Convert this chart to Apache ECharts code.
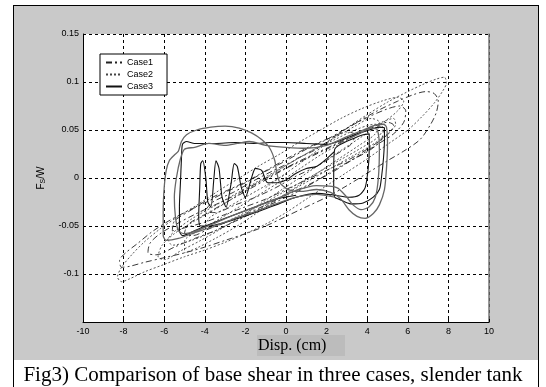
<!DOCTYPE html>
<html>
<head>
<meta charset="utf-8">
<script src="https://cdn.jsdelivr.net/npm/echarts@6/dist/echarts.min.js"></script>
<style type="text/css">
    html, body { margin: 0; padding: 0; background: #fff; }
    #frame {
        position: absolute; left: 13px; top: 5px; width: 524px; height: 384px;
        background: #c9c9c9; border: 1px solid #000; border-bottom: none;
    }
    #band {
        position: absolute; left: 14px; top: 360px; width: 524px; height: 27px; background: #fff;
    }
    #chart { position: absolute; left: 0; top: 0; width: 546px; height: 387px; }
</style>
</head>
<body>
<div id="frame"></div>
<div id="band"></div>
<div id="chart"></div>
<script type="text/javascript">
    // axis ranges / ticks
    var xRange = [-10, 10, 2];
    var yRange = [-0.15, 0.15, 0.05];

    // Case1 : dash-dot loops  [disp (cm), Fs/W]
    var case1 = [
        [0.5,0.02],[1.5,0.03],[2.5,0.045],[3.5,0.058],[4.5,0.07],[5.5,0.08],[6.3,0.087],[6.9,0.09],[7.3,0.088],[7.5,0.08],
        [7.4,0.068],[7.1,0.055],[6.6,0.04],[5.8,0.028],[5,0.018],[4,0.005],[3,-0.008],[2,-0.02],[1,-0.03],[0,-0.04],
        [-1,-0.05],[-2,-0.058],[-3,-0.065],[-4,-0.072],[-5,-0.078],[-6,-0.083],[-7,-0.088],[-7.7,-0.092],[-8.1,-0.093],[-8.2,-0.086],
        [-7.9,-0.078],[-7.3,-0.068],[-6.6,-0.056],[-5.8,-0.045],[-5,-0.036],[-4,-0.026],[-3,-0.015],[-2,-0.005],[-1,0.007],[0,0.018],
        [1,0.03],[2,0.04],[3,0.052],[4,0.063],[5,0.072],[5.6,0.075],[5.9,0.07],[5.8,0.058],[5.3,0.046],[4.5,0.035],
        [3.5,0.022],[2.5,0.01],[1.5,-0.003],[0.5,-0.015],[-0.5,-0.025],[-1.5,-0.035],[-2.5,-0.045],[-3.5,-0.055],[-4.5,-0.063],[-5.5,-0.072],
        [-6.4,-0.08],[-6.8,-0.078],[-6.7,-0.068],[-6.2,-0.058],[-5.4,-0.048],[-4.5,-0.038],[-3.5,-0.028],[-2.5,-0.018],[-1.5,-0.006],[-0.5,0.005],
        [0.5,0.016],[1.5,0.026],[2.5,0.036],[3.5,0.046],[4.3,0.053],[4.8,0.052],[4.7,0.04],[4.2,0.03],[3.2,0.018],[2.2,0.005],
        [1.2,-0.006],[0.2,-0.016],[-0.8,-0.026],[-1.8,-0.036],[-2.8,-0.045],[-3.8,-0.053],[-4.6,-0.06],[-5,-0.058],[-4.8,-0.048],[-4,-0.038],
        [-3,-0.026],[-2,-0.014],[-1,-0.002],[0,0.01],[1,0.02],[2,0.03],[3,0.04],[4,0.05],[5,0.058],[5.3,0.055],
        [5,0.045],[4,0.03],[3,0.018],[2,0.008],[1,-0.002],[0,-0.012],[-1,-0.022],[-2,-0.03],[-3,-0.038],[-4,-0.046],
        [-5,-0.052],[-5.6,-0.055],[-5.5,-0.045],[-4.8,-0.035],[-3.8,-0.022],[-2.8,-0.012],[-1.8,-0.002],[-0.8,0.01],[0.2,0.022],[1.2,0.033],
        [2.2,0.042],[3,0.048],[3.4,0.045],[3.2,0.035],[2.5,0.025],[1.5,0.012],[0.5,0.002],[-0.5,-0.01],[-1.5,-0.02],[-2.5,-0.028],
        [-3.5,-0.036],[-4,-0.035],[-3.6,-0.025],[-2.6,-0.015],[-1.6,-0.003],[-0.6,0.008],[0.4,0.018]
    ];

    // Case2 : dotted loops
    var case2 = [
        [-1,-0.01],[0,0.005],[1,0.02],[2,0.036],[3,0.052],[4,0.066],[5,0.079],[6,0.09],[6.8,0.098],[7.4,0.103],
        [7.8,0.105],[7.9,0.099],[7.7,0.09],[7.3,0.078],[6.7,0.064],[6,0.05],[5,0.035],[4,0.02],[3,0.006],[2,-0.008],
        [1,-0.022],[0,-0.036],[-1,-0.048],[-2,-0.058],[-3,-0.067],[-4,-0.075],[-5,-0.082],[-6,-0.09],[-7,-0.098],[-7.7,-0.105],
        [-8.1,-0.108],[-8.3,-0.103],[-8.1,-0.093],[-7.6,-0.08],[-7,-0.067],[-6.2,-0.053],[-5.3,-0.04],[-4.3,-0.027],[-3.3,-0.013],[-2.3,0],
        [-1.3,0.013],[-0.3,0.025],[0.7,0.038],[1.7,0.05],[2.7,0.062],[3.7,0.072],[4.7,0.08],[5.5,0.084],[5.8,0.08],[5.5,0.07],
        [4.8,0.058],[3.8,0.044],[2.8,0.03],[1.8,0.016],[0.8,0.002],[-0.2,-0.012],[-1.2,-0.026],[-2.2,-0.04],[-3.2,-0.053],[-4.2,-0.065],
        [-5.2,-0.076],[-6,-0.085],[-6.3,-0.082],[-6.1,-0.07],[-5.5,-0.058],[-4.6,-0.046],[-3.6,-0.034],[-2.6,-0.021],[-1.6,-0.008],[-0.6,0.005],
        [0.4,0.018],[1.4,0.03],[2.4,0.042],[3.4,0.054],[4.2,0.062],[4.6,0.058],[4.4,0.046],[3.6,0.034],[2.6,0.02],[1.6,0.006],
        [0.6,-0.008],[-0.4,-0.022],[-1.4,-0.036],[-2.4,-0.05],[-3.4,-0.062],[-4.4,-0.073],[-5,-0.078],[-5,-0.066],[-4.3,-0.055],[-3.3,-0.043],
        [-2.3,-0.03],[-1.3,-0.017],[-0.3,-0.004],[0.7,0.01],[1.7,0.024],[2.7,0.036],[3.7,0.048],[4.7,0.058],[5.3,0.062],[5.4,0.056],
        [5,0.046],[4.2,0.034],[3.2,0.022],[2.2,0.01],[1.2,-0.002],[0.2,-0.014],[-0.8,-0.026],[-1.8,-0.038],[-2.8,-0.048],[-3.8,-0.058],
        [-4.8,-0.066],[-5.6,-0.07],[-5.8,-0.064],[-5.4,-0.054],[-4.6,-0.042],[-3.6,-0.03],[-2.6,-0.018],[-1.6,-0.006],[-0.6,0.006],[0.4,0.018],
        [1.4,0.03],[2.4,0.04],[3.4,0.05],[4.4,0.056],[4.8,0.052],[4.5,0.042],[3.6,0.03],[2.6,0.018],[1.6,0.006],[0.6,-0.006],
        [-0.4,-0.018],[-1.4,-0.03],[-2.4,-0.04],[-3.4,-0.05],[-4,-0.052],[-3.8,-0.042],[-3,-0.032],[-2,-0.02],[-1,-0.008],[0,0.004]
    ];

    // Case3 : solid loops (dark trace)
    var case3a = [
        [0.5,-0.018],[-0.5,-0.022],[-1.5,-0.03],[-2.5,-0.038],[-3.5,-0.046],[-4.2,-0.052],[-4.8,-0.058],[-5.1,-0.06],[-5.25,-0.055],[-5.25,-0.03],
        [-5.2,-0.005],[-5.15,0.02],[-5.1,0.035],[-4.9,0.038],[-4.5,0.036],[-3.5,0.036],[-2.5,0.037],[-1.5,0.036],[-0.8,0.037],[0,0.037],
        [1,0.036],[2,0.035],[2.8,0.04],[3.5,0.046],[4.1,0.05],[4.6,0.053],[4.85,0.052],[4.85,0.04],[4.8,0.02],[4.7,0],
        [4.6,-0.012],[4.3,-0.02],[3.8,-0.026],[3.2,-0.027],[2.6,-0.022],[2.4,-0.02],[2.35,-0.01],[2.35,0.01],[2.4,0.03],[2.6,0.034],
        [3.2,0.04],[3.8,0.045],[4.1,0.046],[4.1,0.03],[4.05,0.01],[3.9,-0.01],[3.6,-0.018],[3.1,-0.02],[2.4,-0.018],[1.5,-0.016],
        [0.5,-0.02],[-0.5,-0.028],[-1.5,-0.036],[-2.5,-0.043],[-3.5,-0.049],[-4.2,-0.05],[-4.3,-0.04],[-4.25,-0.01],[-4.2,0.015],[-4.1,0.018],
        [-3.95,0],[-3.85,-0.025],[-3.7,-0.03],[-3.55,0],[-3.45,0.018],[-3.3,0.01],[-3.15,-0.02],[-2.95,-0.03],[-2.7,-0.005],[-2.55,0.015],
        [-2.4,0.012],[-2.2,-0.01],[-2,-0.02],[-1.7,0],[-1.5,0.01],[-1.2,0.008],[-0.9,-0.005],[-0.5,-0.005],[0,-0.002],[0.5,0.005],
        [1,0.01],[1.5,0.012],[2,0.02],[2.4,0.028]
    ];

    // Case3 : solid loops (grey trace)
    var case3b = [
        [2.4,-0.02],[1.5,-0.017],[0.5,-0.02],[-0.5,-0.027],[-1.5,-0.035],[-2.5,-0.042],[-3.5,-0.05],[-4.5,-0.057],[-5.3,-0.063],[-5.9,-0.065],
        [-6.05,-0.06],[-6.05,-0.035],[-6,-0.01],[-5.9,0.008],[-5.75,0.018],[-5.5,0.024],[-5.3,0.028],[-5.15,0.038],[-4.9,0.045],[-4.4,0.05],
        [-3.7,0.053],[-3,0.054],[-2.3,0.052],[-1.7,0.047],[-1.2,0.04],[-0.8,0.031],[-0.55,0.018],[-0.45,0.005],[-0.3,-0.005],[0.1,-0.012],
        [0.8,-0.014],[1.5,-0.012],[2.2,-0.015],[2.7,-0.022],[3.1,-0.033],[3.5,-0.04],[3.9,-0.042],[4.3,-0.037],[4.6,-0.028],[4.85,-0.012],
        [4.95,0.01],[5,0.035],[4.95,0.053],[4.8,0.056],[4.4,0.055],[3.8,0.05],[3,0.043],[2,0.034],[1,0.031],[0,0.032],
        [-1,0.034],[-1.8,0.038],[-2.4,0.036],[-3,0.034],[-3.8,0.036],[-4.5,0.032],[-5,0.03],[-5.2,0.02],[-5.4,0],[-5.5,-0.02],
        [-5.45,-0.04],[-5.3,-0.055],[-5,-0.058],[-4.3,-0.054],[-3.5,-0.047],[-2.5,-0.038],[-1.5,-0.03],[-0.5,-0.022],[0.5,-0.013],[1.5,-0.008],
        [2.5,-0.01],[3,-0.02],[3.3,-0.028],[3.7,-0.033],[4.1,-0.03],[4.4,-0.02],[4.55,0],[4.6,0.03],[4.5,0.05],[4.2,0.052],
        [3.6,0.046],[3,0.04]
    ];

    var chart = echarts.init(document.getElementById('chart'));
    var gridDash = { color: '#000', width: 1, type: [3, 3] };
    var font = 'Liberation Sans';

    var option = {
        animation: false,
        backgroundColor: 'transparent',
        title: {
            text: 'Fig3) Comparison of base shear in three cases, slender tank',
            left: 'center', top: 360,
            textStyle: { fontFamily: 'Liberation Serif', fontSize: 21, fontWeight: 'normal', color: '#000' }
        },
        legend: {
            data: ['Case1', 'Case2', 'Case3'],
            orient: 'vertical', left: 100, top: 54,
            backgroundColor: '#fff', borderColor: '#000', borderWidth: 1,
            padding: [4, 14, 4, 5], itemGap: 3, itemWidth: 16, itemHeight: 8,
            itemStyle: { opacity: 0 },
            textStyle: { fontFamily: font, fontSize: 9, color: '#000' }
        },
        grid: {
            left: 83, top: 34, width: 406, height: 288,
            show: true, backgroundColor: '#fff', borderWidth: 0
        },
        xAxis: {
            type: 'value', min: xRange[0], max: xRange[1], interval: xRange[2],
            axisLine: { onZero: false, lineStyle: { color: '#000', width: 1 } },
            axisTick: { inside: true, length: 3, lineStyle: { color: '#000' } },
            axisLabel: { fontFamily: font, fontSize: 9, color: '#000', margin: 5 },
            splitLine: { show: true, lineStyle: gridDash }
        },
        yAxis: [{
            type: 'value', min: yRange[0], max: yRange[1], interval: yRange[2],
            name: 'F{s|S}/W', nameLocation: 'middle', nameGap: 36, nameRotate: 90,
            nameTextStyle: { fontFamily: font, fontSize: 10, color: '#000',
                rich: { s: { fontFamily: font, fontSize: 7, color: '#000', padding: [4, 0, 0, 0] } } },
            axisLine: { onZero: false, lineStyle: { color: '#000', width: 1 } },
            axisTick: { inside: true, length: 3, lineStyle: { color: '#000' } },
            axisLabel: {
                fontFamily: font, fontSize: 9, color: '#000', margin: 4,
                formatter: function (v) {
                    if (Math.abs(v - yRange[0]) < 1e-9) return '';
                    return String(+v.toFixed(2));
                }
            },
            splitLine: { show: true, lineStyle: gridDash }
        }, {
            type: 'value', position: 'right', min: yRange[0], max: yRange[1], interval: yRange[2],
            axisLine: { show: true, onZero: false, lineStyle: { color: '#777', width: 1.5 } },
            axisTick: { show: false }, axisLabel: { show: false }, splitLine: { show: false }
        }],
        graphic: [
            { type: 'rect', shape: { x: 257, y: 335, width: 88, height: 21 }, style: { fill: '#bcbcbc' }, z: -1 },
            { type: 'text', x: 258, y: 346,
              style: { text: 'Disp. (cm)', font: '16px "Liberation Serif"', fill: '#000', verticalAlign: 'middle' } }
        ],
        series: [
            { name: 'Case1', type: 'line', data: case1, symbol: 'none', smooth: 0.3,
              lineStyle: { color: '#222', width: 0.9, type: [6, 3, 2, 3] }, itemStyle: { color: '#222' } },
            { name: 'Case2', type: 'line', data: case2, symbol: 'none', smooth: 0.3,
              lineStyle: { color: '#444', width: 0.9, type: [2, 2] }, itemStyle: { color: '#444' } },
            { name: 'Case3', type: 'line', data: case3a, symbol: 'none', smooth: 0.25,
              lineStyle: { color: '#111', width: 1.1 }, itemStyle: { color: '#111' } },
            { name: 'Case3', type: 'line', data: case3b, symbol: 'none', smooth: 0.25,
              lineStyle: { color: '#666', width: 1.3 }, itemStyle: { color: '#666' } }
        ]
    };
    chart.setOption(option);
</script>
</body>
</html>
